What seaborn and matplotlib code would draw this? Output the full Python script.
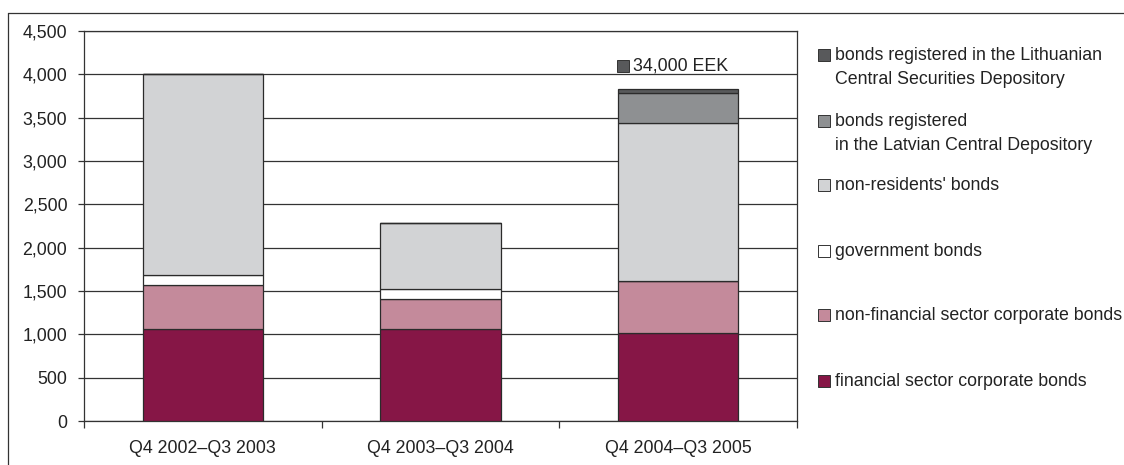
import seaborn as sns
import pandas as pd
import matplotlib.pyplot as plt
from matplotlib.patches import Rectangle
from matplotlib.ticker import FuncFormatter

# data (EEK millions)
periods = ["Q4 2002\u2013Q3 2003", "Q4 2003\u2013Q3 2004", "Q4 2004\u2013Q3 2005"]
financial = [1060, 1060, 1015]
non_financial = [510, 345, 600]
government = [115, 115, 0]
non_residents = [2315, 765, 1820]
latvian = [0, 0, 345]
lithuanian = [0, 0, 45]

series_names = [
    "financial sector corporate bonds",
    "non-financial sector corporate bonds",
    "government bonds",
    "non-residents' bonds",
    "bonds registered\nin the Latvian Central Depository",
    "bonds registered in the Lithuanian\nCentral Securities Depository",
]
series_values = [financial, non_financial, government, non_residents, latvian, lithuanian]
colors = ["#861646", "#c48a9b", "#ffffff", "#d2d3d5", "#8e9092", "#58595b"]
note_text = "34,000 EEK"

W, H = 1124, 465
FS = 12.8


def main():
    sns.set_style("white")
    plt.rcParams['font.family'] = ['Liberation Sans', 'DejaVu Sans']

    fig = plt.figure(figsize=(W / 100, H / 100), dpi=100)
    ax = fig.add_axes([84 / W, 1 - 421 / H, 713 / W, 390 / H])

    # stacked bars, one layer at a time
    bottom = [0, 0, 0]
    for name, vals, col in zip(series_names, series_values, colors):
        df = pd.DataFrame({"period": periods, "value": vals})
        sns.barplot(data=df, x="period", y="value", order=periods, color=col,
                    width=0.505, bottom=bottom, edgecolor="#2b2b2b", linewidth=0.9,
                    saturation=1, ax=ax, zorder=3)
        bottom = [b + v for b, v in zip(bottom, vals)]

    ax.set_xlim(-0.5, 2.5)
    ax.set_ylim(0, 4500)
    ax.set_yticks(range(0, 4501, 500))
    ax.yaxis.set_major_formatter(FuncFormatter(lambda v, p: f"{int(v):,}"))
    ax.set_xlabel("")
    ax.set_ylabel("")

    ax.grid(axis="y", color="#333333", linewidth=0.9, zorder=0)
    ax.set_axisbelow(True)
    for s in ax.spines.values():
        s.set_color("#333333")
        s.set_linewidth(0.9)
        s.set_visible(True)

    ax.tick_params(axis="y", left=True, length=4, width=0.9, color="#333333",
                   pad=8, labelsize=FS, labelcolor="#222222")
    ax.tick_params(axis="x", which="major", length=0, pad=14, labelsize=FS,
                   labelcolor="#222222")
    ax.set_xticks([-0.5, 0.5, 1.5, 2.5], minor=True)
    ax.tick_params(axis="x", which="minor", bottom=True, length=5, width=0.9,
                   color="#333333")

    # note over the third bar
    fig.patches.append(Rectangle((617 / W, 1 - 72 / H), 12 / W, 12 / H,
                                 transform=fig.transFigure, facecolor=colors[5],
                                 edgecolor="#333333", linewidth=0.7))
    fig.text(633 / W, 1 - 66 / H, note_text, fontsize=FS, va="center",
             color="#222222")

    # legend drawn by hand so the squares sit at the first text line
    legend_y = [55, 121, 185, 251, 315, 381]
    order = list(range(len(series_names)))[::-1]
    for y, i in zip(legend_y, order):
        fig.patches.append(Rectangle((818 / W, 1 - (y + 6) / H), 12 / W, 12 / H,
                                     transform=fig.transFigure, facecolor=colors[i],
                                     edgecolor="#333333", linewidth=0.7))
        lines = series_names[i].split("\n")
        for k, line in enumerate(lines):
            fig.text(835 / W, 1 - (y + 24 * k) / H, line, fontsize=FS,
                     va="center", color="#222222")

    # outer frame
    fig.add_artist(plt.Line2D([8 / W, 1], [1 - 13 / H, 1 - 13 / H],
                              transform=fig.transFigure, color="#333333", linewidth=0.9))
    fig.add_artist(plt.Line2D([8 / W, 8 / W], [0, 1 - 13 / H],
                              transform=fig.transFigure, color="#333333", linewidth=0.9))

    fig.savefig("out.png", dpi=100)


if __name__ == "__main__":
    main()
